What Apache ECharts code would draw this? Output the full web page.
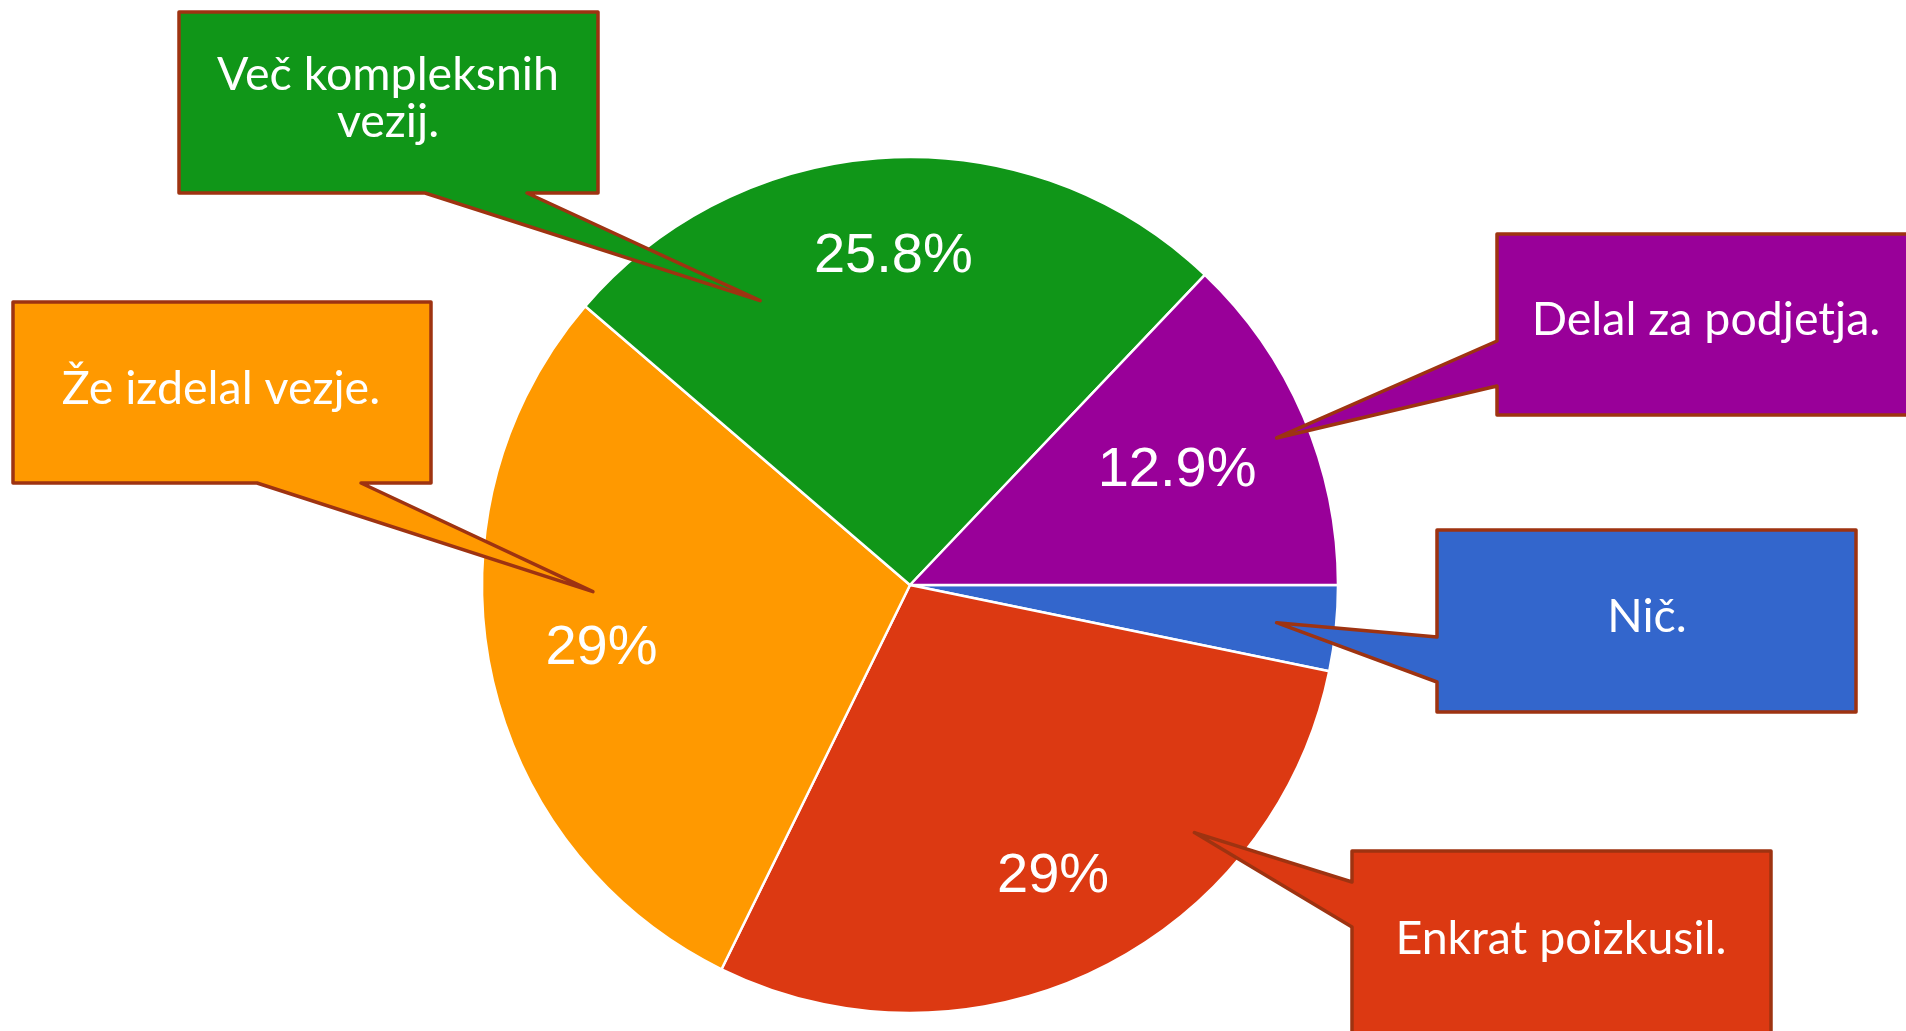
<!DOCTYPE html>
<html><head><meta charset="utf-8">
<script src="https://cdn.jsdelivr.net/npm/echarts@6/dist/echarts.min.js"></script>
<style>html,body{margin:0;padding:0;background:#fff}#c{width:1906px;height:1031px}</style>
</head><body><div id="c"></div>
<script>
// ---- data ----
const categories = ['Nič.', 'Enkrat poizkusil.', 'Že izdelal vezje.', 'Več kompleksnih vezij.', 'Delal za podjetja.'];
const counts = [1, 9, 9, 8, 4];
const sliceColors = ['#3366CC', '#DC3912', '#FF9900', '#109618', '#990099'];
const calloutLines = [['Nič.'], ['Enkrat poizkusil.'], ['Že izdelal vezje.'], ['Več kompleksnih', 'vezij.'], ['Delal za podjetja.']];

// ---- layout ----
const CX = 910, CY = 585, R = 428;
const labelRadius = [0.86, 0.752, 0.729, 0.762, 0.672]; // fraction of R where % labels sit
const callouts = [
  { box: [1437, 530, 1856, 712], side: 'left',   base: [637, 682], tip: [-5.87, 0.861],   text: [1647, 617] },
  { box: [1352, 851, 1771, 1045], side: 'left',  base: [882, 927], tip: [-41.04, 0.881],  text: [1561, 939] },
  { box: [13, 302, 431, 483], side: 'bottom',    base: [257, 361], tip: [-178.8, 0.741],  text: [221, 389] },
  { box: [179, 12, 598, 193], side: 'bottom',    base: [425, 527], tip: [117.8, 0.751],   text: [388, 98] },
  { box: [1497, 234, 1920, 415], side: 'left',   base: [341, 386], tip: [21.85, 0.923],   text: [1706, 320] }
];

const total = counts.reduce((a, b) => a + b, 0);
function pctText(v) {
  const p = Math.round(v / total * 1000) / 10;
  return p + '%';
}

const series = [{
  type: 'pie',
  center: [CX, CY],
  radius: [0, R],
  startAngle: 0,
  clockwise: true,
  animation: false,
  silent: true,
  label: { show: false },
  labelLine: { show: false },
  itemStyle: { borderColor: '#ffffff', borderWidth: 2.5 },
  data: counts.map((v, i) => ({ value: v, name: categories[i], itemStyle: { color: sliceColors[i] } }))
}];

counts.forEach((v, i) => {
  if (v / total < 0.05) return;
  series.push({
    type: 'pie',
    center: [CX, CY],
    radius: [R * (2 * labelRadius[i] - 1), R],
    startAngle: 0,
    clockwise: true,
    animation: false,
    silent: true,
    z: 5,
    itemStyle: { color: 'rgba(0,0,0,0)', borderWidth: 0 },
    labelLine: { show: false },
    emphasis: { disabled: true },
    label: {
      position: 'inside',
      color: '#ffffff',
      fontFamily: 'Liberation Sans, Arial, sans-serif',
      fontSize: 56,
      formatter: p => pctText(p.value)
    },
    data: counts.map((w, j) => ({ value: w, name: categories[j], label: { show: j === i } }))
  });
});

const graphic = [];
callouts.forEach((c, i) => {
  const [L, T, Rr, B] = c.box;
  const a = c.tip[0] * Math.PI / 180;
  const tip = [CX + R * c.tip[1] * Math.cos(a), CY - R * c.tip[1] * Math.sin(a)];
  let pts;
  if (c.side === 'bottom') {
    pts = [[L, T], [Rr, T], [Rr, B], [c.base[1], B], tip, [c.base[0], B], [L, B]];
  } else {
    pts = [[L, T], [Rr, T], [Rr, B], [L, B], [L, c.base[1]], tip, [L, c.base[0]]];
  }
  graphic.push({
    type: 'polygon', z: 100, silent: true,
    shape: { points: pts },
    style: { fill: sliceColors[i], stroke: '#9E3311', lineWidth: 3.5, lineJoin: 'round' }
  });
  graphic.push({
    type: 'text', z: 101, silent: true,
    x: c.text[0], y: c.text[1],
    style: {
      text: calloutLines[i].join('\n'),
      fill: '#ffffff',
      fontFamily: 'Lato, sans-serif',
      fontSize: 46.5,
      lineHeight: 47,
      align: 'center', verticalAlign: 'middle',
      textAlign: 'center', textVerticalAlign: 'middle'
    }
  });
});

const chart = echarts.init(document.getElementById('c'), null, { renderer: 'canvas' });
chart.setOption({
  backgroundColor: '#ffffff',
  animation: false,
  series: series,
  graphic: graphic
});
</script>
</body></html>
